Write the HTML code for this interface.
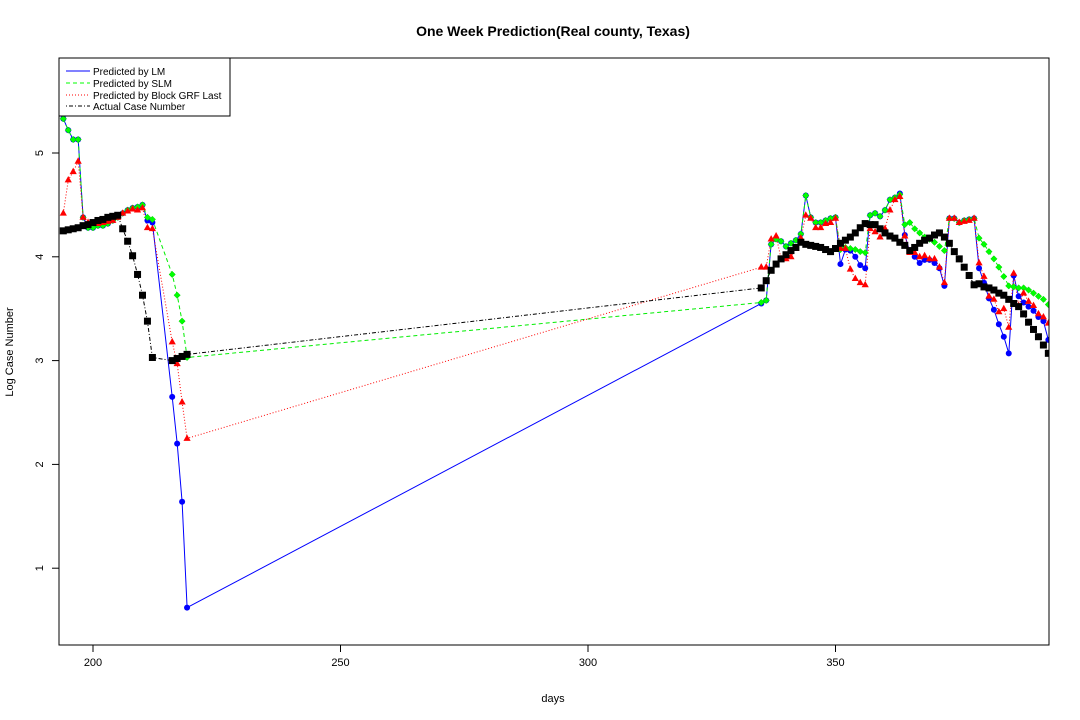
<!DOCTYPE html>
<html><head><meta charset="utf-8"><style>
body{margin:0;background:#fff}
svg{display:block;font-family:"Liberation Sans",Arial,sans-serif}
</style></head><body>
<svg id="chart" width="1080" height="720" viewBox="0 0 1080 720">
<rect width="1080" height="720" fill="#fff"/>
<text x="553" y="36" text-anchor="middle" font-size="14" font-weight="bold">One Week Prediction(Real county, Texas)</text>
<text x="553" y="702" text-anchor="middle" font-size="11">days</text>
<text transform="translate(13,352) rotate(-90)" text-anchor="middle" font-size="11">Log Case Number</text>
<g id="axes"></g>
<g id="series"></g>
<rect x="59" y="58" width="990" height="587" fill="none" stroke="#000" stroke-width="1"/>
<g>
<rect x="59" y="58" width="171" height="58" fill="#fff" stroke="#000"/>
<g><line x1="66" y1="71" x2="90" y2="71" stroke="#0000ff"/><text x="93" y="75" font-size="10">Predicted by LM</text></g>
<g><line x1="66" y1="83" x2="90" y2="83" stroke="#00ff00" stroke-dasharray="4,3"/><text x="93" y="87" font-size="10">Predicted by SLM</text></g>
<g><line x1="66" y1="95" x2="90" y2="95" stroke="#ff0000" stroke-dasharray="1,2"/><text x="93" y="99" font-size="10">Predicted by Block GRF Last</text></g>
<g><line x1="66" y1="106" x2="90" y2="106" stroke="#000" stroke-dasharray="1,2,4,2"/><text x="93" y="110" font-size="10">Actual Case Number</text></g>
</g>
</svg>
<script>
const days = [194,195,196,197,198,199,200,201,202,203,204,205,206,207,208,209,210,211,212,216,217,218,219,
335,336,337,338,339,340,341,342,343,344,345,346,347,348,349,350,351,352,353,354,355,356,357,358,359,360,361,362,363,364,365,366,367,368,369,370,371,372,373,374,375,376,377,378,379,380,381,382,383,384,385,386,387,388,389,390,391,392,393];
const lmValues = [5.33,5.22,5.13,5.13,4.38,4.28,4.28,4.30,4.30,4.32,4.35,4.38,4.42,4.45,4.47,4.48,4.50,4.35,4.33,2.65,2.20,1.64,0.62,
3.55,3.58,4.12,4.17,4.15,4.10,4.13,4.16,4.22,4.59,4.38,4.33,4.33,4.35,4.37,4.38,3.93,4.07,4.06,4.00,3.92,3.89,4.40,4.42,4.39,4.45,4.55,4.57,4.61,4.21,4.05,4.00,3.94,3.97,3.97,3.94,3.89,3.72,4.37,4.37,4.33,4.35,4.36,4.37,3.89,3.75,3.60,3.49,3.35,3.23,3.07,3.82,3.62,3.56,3.52,3.48,3.42,3.38,3.20];
const slmValues = [5.33,5.22,5.13,5.13,4.38,4.28,4.28,4.30,4.30,4.32,4.35,4.38,4.42,4.45,4.47,4.48,4.50,4.38,4.36,3.83,3.63,3.38,3.03,
3.56,3.58,4.12,4.17,4.15,4.10,4.13,4.16,4.22,4.59,4.38,4.33,4.33,4.35,4.37,4.38,4.07,4.09,4.08,4.07,4.05,4.04,4.40,4.42,4.39,4.45,4.55,4.57,4.60,4.31,4.33,4.27,4.23,4.19,4.17,4.14,4.10,4.06,4.37,4.37,4.33,4.35,4.36,4.37,4.18,4.12,4.05,3.98,3.90,3.81,3.72,3.71,3.70,3.70,3.68,3.65,3.62,3.59,3.54];
const grfValues = [4.42,4.74,4.82,4.92,4.38,4.33,4.32,4.32,4.33,4.34,4.35,4.38,4.42,4.44,4.46,4.45,4.47,4.28,4.27,3.18,2.97,2.60,2.25,
3.90,3.90,4.17,4.20,3.98,3.98,4.00,4.08,4.18,4.40,4.37,4.28,4.28,4.32,4.33,4.37,4.08,4.08,3.88,3.79,3.75,3.73,4.27,4.24,4.19,4.27,4.45,4.55,4.58,4.20,4.04,4.04,4.00,4.01,3.98,3.98,3.90,3.75,4.37,4.37,4.33,4.34,4.35,4.37,3.94,3.81,3.62,3.59,3.47,3.50,3.32,3.84,3.53,3.65,3.57,3.53,3.45,3.42,3.36];
const actualValues = [4.25,4.26,4.27,4.28,4.30,4.31,4.33,4.35,4.36,4.38,4.39,4.40,4.27,4.15,4.01,3.83,3.63,3.38,3.03,3.00,3.02,3.04,3.06,
3.70,3.77,3.87,3.93,3.98,4.02,4.06,4.09,4.14,4.12,4.11,4.10,4.09,4.07,4.05,4.08,4.13,4.16,4.19,4.23,4.28,4.32,4.31,4.31,4.27,4.23,4.20,4.18,4.14,4.11,4.06,4.09,4.13,4.16,4.18,4.21,4.23,4.19,4.13,4.05,3.98,3.90,3.82,3.73,3.74,3.71,3.70,3.68,3.65,3.63,3.59,3.55,3.52,3.45,3.37,3.30,3.23,3.15,3.07];
const xTicks = [200,250,300,350];
const yTicks = [1,2,3,4,5];

const NS = "http://www.w3.org/2000/svg";
const X = d => 93 + (d - 200) * 4.95;
const Y = v => 153 + (5 - v) * 103.8;
function mk(tag, attrs, parent) {
  const e = document.createElementNS(NS, tag);
  for (const k in attrs) e.setAttribute(k, attrs[k]);
  parent.appendChild(e);
  return e;
}
const axes = document.getElementById('axes');
xTicks.forEach(t => {
  const l = mk('line', {x1: X(t), x2: X(t), y1: 645, y2: 652, stroke: '#000'}, axes);
  
  
  const tx = mk('text', {x: X(t), y: 666, 'text-anchor': 'middle', 'font-size': 11}, axes);
  tx.textContent = t;
  
  
});
yTicks.forEach(t => {
  const l = mk('line', {x1: 52, x2: 59, y1: Y(t), y2: Y(t), stroke: '#000'}, axes);
  
  
  const tx = mk('text', {transform: `translate(43,${Y(t)}) rotate(-90)`, 'text-anchor': 'middle', 'font-size': 11}, axes);
  tx.textContent = t;
  
  
});
const sg = document.getElementById('series');
const clip = mk('clipPath', {id: 'pc'}, sg);
mk('rect', {x: 59, y: 58, width: 990, height: 587}, clip);
const gl = mk('g', {'clip-path': 'url(#pc)'}, sg);
function line(vals, color, dash, name) {
  const pts = days.map((d, i) => X(d).toFixed(1) + ',' + Y(vals[i]).toFixed(1)).join(' ');
  const p = mk('polyline', {points: pts, fill: 'none', stroke: color, 'stroke-width': 1, 'stroke-dasharray': dash}, gl);
  
  
}
line(lmValues, '#0000ff', 'none', 'lm-line');
line(slmValues, '#00ee00', '4,3', 'slm-line');
line(grfValues, '#ff0000', '1,2', 'grf-line');
line(actualValues, '#000', '1,2,4,2', 'actual-line');
days.forEach((d, i) => {
  const c = mk('circle', {cx: X(d), cy: Y(lmValues[i]), r: 3, fill: '#0000ff'}, gl);
  
  
});
days.forEach((d, i) => {
  const x = X(d), y = Y(slmValues[i]);
  const p = mk('polygon', {points: `${x},${y-3.2} ${x+3.2},${y} ${x},${y+3.2} ${x-3.2},${y}`, fill: '#00ff00', stroke: '#00cc00', 'stroke-width': 0.5}, gl);
  
  
});
days.forEach((d, i) => {
  const x = X(d), y = Y(grfValues[i]);
  const p = mk('polygon', {points: `${x},${y-4} ${x+3.6},${y+2.4} ${x-3.6},${y+2.4}`, fill: '#ff0000'}, gl);
  
  
});
days.forEach((d, i) => {
  const r = mk('rect', {x: X(d) - 3.5, y: Y(actualValues[i]) - 3.5, width: 7, height: 7, fill: '#000'}, gl);
  
  
});
</script>
</body></html>
